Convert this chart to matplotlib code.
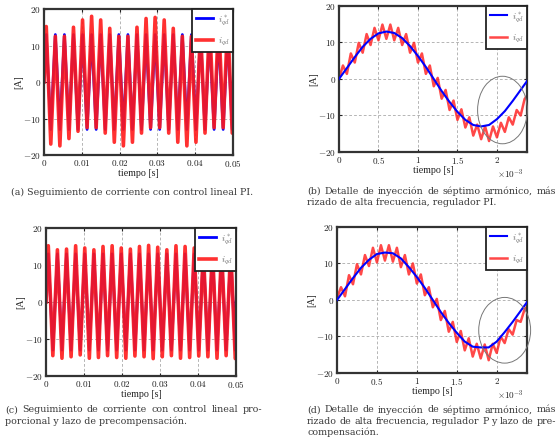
import numpy as np
import matplotlib
matplotlib.use('Agg')
import matplotlib.pyplot as plt
from matplotlib.patches import Ellipse
from matplotlib.ticker import FuncFormatter

plt.rcParams['font.family'] = ['Liberation Serif', 'DejaVu Serif']
plt.rcParams['mathtext.fontset'] = 'cm'
plt.rcParams['axes.unicode_minus'] = False

# ---- data ----------------------------------------------------------------
# (a) and (c): 0..0.05 s, peaks of the current every half period
period = 0.0024          # s
t_end = 0.05
ref_amp = 13.0           # reference i*_qd amplitude [A]

red_a_tops = [15.2, 12.5, 12.5, 15.0, 17.0, 18.0, 17.0, 14.7, 12.5, 12.5, 15.0,
              17.4, 17.7, 17.0, 14.7, 12.5, 12.5, 15.0, 17.0, 17.7, 17.0]
red_a_bottoms = [-17.0, -17.5, -15.5, -13.5, -12.5, -12.5, -14.0, -16.5, -17.5,
                 -16.5, -14.0, -12.5, -12.5, -14.0, -16.5, -17.5, -16.5, -14.0,
                 -12.5, -12.5, -14.0]
red_a_end = -14.0

red_c_tops = [15.2, 14.1, 14.3, 15.2, 14.6, 14.1, 15.0, 15.2, 14.6, 14.3, 15.0,
              15.3, 14.8, 14.1, 15.2, 15.0, 14.6, 14.3, 15.0, 14.6, 14.8]
red_c_bottoms = [-14.5, -15.2, -14.8, -14.3, -15.2, -15.0, -14.5, -15.0, -15.2,
                 -14.6, -14.8, -15.3, -14.8, -14.5, -15.2, -15.0, -14.6, -14.8,
                 -15.2, -14.5, -15.3]
red_c_end = -15.0

# (b) and (d): detail of one period, time in units of 1e-3 s
t_blue_ms = [0.0, 0.1, 0.2, 0.3, 0.4, 0.5, 0.6, 0.7, 0.8, 0.9, 1.0, 1.1, 1.2,
             1.3, 1.4, 1.5, 1.6, 1.7, 1.8, 1.9, 2.0, 2.1, 2.2, 2.3, 2.4]
blue_b = [0.0, 3.0, 6.0, 8.8, 11.0, 12.5, 13.0, 12.6, 11.2, 9.0, 6.3, 3.3, 0.0,
          -3.3, -6.3, -9.0, -11.2, -12.6, -13.0, -12.6, -11.0, -8.8, -6.0, -3.0, 0.0]
blue_d = [0.0, 3.0, 6.0, 8.8, 11.0, 12.6, 13.0, 12.8, 11.4, 9.0, 6.3, 3.3, 0.0,
          -3.3, -6.3, -9.0, -11.4, -12.8, -13.0, -13.0, -11.4, -8.8, -6.0, -3.0, 0.0]

t_red_ms = [0.00, 0.05, 0.10, 0.15, 0.20, 0.25, 0.30, 0.35, 0.40, 0.45, 0.50,
            0.55, 0.60, 0.65, 0.70, 0.75, 0.80, 0.85, 0.90, 0.95, 1.00, 1.05,
            1.10, 1.15, 1.20, 1.25, 1.30, 1.35, 1.40, 1.45, 1.50, 1.55, 1.60,
            1.65, 1.70, 1.75, 1.80, 1.85, 1.90, 1.95, 2.00, 2.05, 2.10, 2.15,
            2.20, 2.25, 2.30, 2.35, 2.40]
red_b = [0.0, 3.7, 1.4, 7.0, 4.5, 9.9, 7.2, 12.3, 9.3, 14.0, 10.6, 14.9, 11.0,
         14.9, 10.6, 14.0, 9.3, 12.3, 7.2, 9.9, 4.5, 7.0, 1.4, 3.7, -2.0, 0.3,
         -5.4, -3.0, -8.5, -5.9, -11.2, -8.3, -13.3, -10.5, -15.5, -12.5, -16.5,
         -13.0, -17.0, -13.0, -16.0, -12.0, -14.5, -10.5, -12.5, -8.5, -10.0,
         -5.5, -4.0]
red_d = [0.5, 3.5, 1.0, 6.8, 4.3, 9.8, 7.0, 12.3, 9.3, 14.3, 10.3, 15.0, 10.8,
         15.0, 10.5, 14.3, 9.0, 12.3, 7.0, 10.0, 4.5, 7.0, 1.3, 3.5, -2.0, 0.3,
         -5.5, -3.0, -8.7, -6.0, -11.5, -8.5, -13.8, -10.5, -15.5, -12.0, -16.0,
         -12.2, -16.5, -12.0, -14.5, -10.0, -11.8, -8.0, -9.5, -5.5, -6.0, -2.5,
         -1.5]

# highlighted region (ellipse) in b and d: centre, width, height
ell_b = (2.07, -8.5, 0.63, 18.5)
ell_d = (2.10, -8.3, 0.65, 18.0)

captions = {
    'a': ["(a) Seguimiento de corriente con control lineal PI."],
    'b': ["(b) Detalle de inyección de séptimo armónico, más",
          "rizado de alta frecuencia, regulador PI."],
    'c': ["(c) Seguimiento de corriente con control lineal pro-",
          "porcional y lazo de precompensación."],
    'd': ["(d) Detalle de inyección de séptimo armónico, más",
          "rizado de alta frecuencia, regulador P y lazo de pre-",
          "compensación."],
}

BLUE = '#0000ff'
RED = '#ff1a1a'
FS = 6.6
CAP_FS = 6.8
CAP_FONT = 'DejaVu Serif'
W, H = 559, 437


def wave(tops, bottoms, end_val):
    # alternate top/bottom extrema, starting from 0 at t=0
    vals = [0.0]
    for tp, bt in zip(tops, bottoms):
        vals += [tp, bt]
    n = len(vals) - 1
    t = np.concatenate([[0.0], period / 4 + period / 2 * np.arange(n)])
    return np.append(t, t_end), np.append(vals, end_val)


def ref_wave():
    n = 2 * len(red_a_tops)
    t = np.concatenate([[0.0], period / 4 + period / 2 * np.arange(n), [t_end]])
    v = np.concatenate([[0.0], ref_amp * np.where(np.arange(n) % 2 == 0, 1, -1), [0.0]])
    return t, v


def math_fmt(v, pos):
    return '$%g$' % round(v, 6)


def style(ax, xticks, xlim):
    ax.set_xlim(*xlim)
    ax.set_ylim(-20, 20)
    ax.set_xticks(xticks)
    ax.set_yticks([-20, -10, 0, 10, 20])
    ax.xaxis.set_major_formatter(FuncFormatter(math_fmt))
    ax.yaxis.set_major_formatter(FuncFormatter(math_fmt))
    ax.tick_params(direction='in', top=True, right=True, length=2.5,
                   width=0.8, labelsize=FS, pad=2, colors='#222222')
    ax.grid(True, color='#999999', linestyle=(0, (4, 3)), linewidth=0.5)
    for s in ax.spines.values():
        s.set_linewidth(1.6)
        s.set_color('#333333')
    ax.set_xlabel('tiempo [s]', fontsize=FS + 0.6, labelpad=0.5, color='#222222')
    ax.set_ylabel('[A]', fontsize=FS + 0.6, labelpad=0, color='#222222')


def add_legend(ax):
    leg = ax.legend(loc='upper right', fontsize=FS, handlelength=1.9,
                    handletextpad=0.5, borderpad=0.4, labelspacing=1.0,
                    fancybox=False, framealpha=1, borderaxespad=0.0)
    leg.get_frame().set_edgecolor('#222222')
    leg.get_frame().set_linewidth(1.3)
    for txt in leg.get_texts():
        txt.set_color('#666666')


fig = plt.figure(figsize=(W / 100, H / 100), dpi=100)
ax_a = fig.add_axes([0.0787, 0.6453, 0.3381, 0.3341])
ax_b = fig.add_axes([0.6064, 0.6522, 0.3363, 0.3341])
ax_c = fig.add_axes([0.0823, 0.1396, 0.3399, 0.3387])
ax_d = fig.add_axes([0.6029, 0.1465, 0.3399, 0.3341])

# (a), (c) full window
tr, vr = ref_wave()
for ax, tops, bots, endv in [(ax_a, red_a_tops, red_a_bottoms, red_a_end),
                             (ax_c, red_c_tops, red_c_bottoms, red_c_end)]:
    ax.plot(tr, vr, color=BLUE, lw=2.0, label='$i^*_{qd}$')
    t, v = wave(tops, bots, endv)
    ax.plot(t, v, color=RED, lw=2.6, alpha=0.9, label='$i_{qd}$')
    style(ax, [0, 0.01, 0.02, 0.03, 0.04, 0.05], (0, 0.05))
    add_legend(ax)

# (b), (d) detail
for ax, blue, red, ell in [(ax_b, blue_b, red_b, ell_b), (ax_d, blue_d, red_d, ell_d)]:
    ax.plot(t_blue_ms, blue, color=BLUE, lw=1.5, label='$i^*_{qd}$', zorder=3)
    ax.plot(t_red_ms, red, color=RED, lw=1.8, alpha=0.8, label='$i_{qd}$', zorder=2)
    style(ax, [0, 0.5, 1, 1.5, 2], (0, 2.38))
    add_legend(ax)
    ax.add_patch(Ellipse(ell[:2], ell[2], ell[3], fill=False, edgecolor='#777777',
                         lw=0.7, clip_on=False, zorder=4))
    ax.text(0.98, -0.11, r'$\times10^{-3}$', transform=ax.transAxes,
            ha='right', va='top', fontsize=FS, color='#222222')

# captions, justified like the LaTeX subcaptions
renderer = fig.canvas.get_renderer()


def caption(lines, x0_px, x1_px, y0_px, center=False, step=11.0):
    kw = dict(va='center', fontsize=CAP_FS, color='#3a3a3a', family=CAP_FONT)
    for i, line in enumerate(lines):
        y = 1 - (y0_px + i * step) / H
        last = i == len(lines) - 1
        if center or last:
            x = (x0_px + x1_px) / 2 / W if center else x0_px / W
            fig.text(x, y, line, ha='center' if center else 'left', **kw)
            continue
        words = line.split(' ')
        arts = [fig.text(0, y, w, ha='left', **kw) for w in words]
        widths = [a.get_window_extent(renderer).width for a in arts]
        gap = (x1_px - x0_px - sum(widths)) / (len(words) - 1)
        x = x0_px
        for a, w in zip(arts, widths):
            a.set_x(x / W)
            x += w + gap


caption(captions['a'], 5, 260, 192, center=True)
caption(captions['b'], 307, 556, 191)
caption(captions['c'], 5, 262, 410)
caption(captions['d'], 307, 556, 410)

fig.savefig('out.png', dpi=100)
